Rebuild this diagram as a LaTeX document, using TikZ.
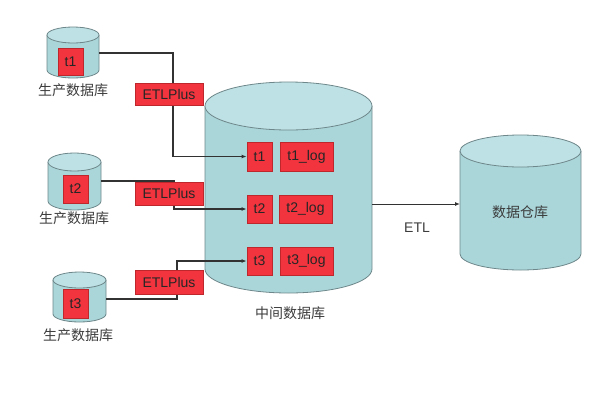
\documentclass[tikz,border=0pt]{standalone}
\usepackage{fontspec}
\setmainfont{Liberation Sans}
\newfontfamily\cjk{Noto Sans CJK SC}
\usetikzlibrary{arrows.meta}
\definecolor{cylbody}{RGB}{170,214,218}
\definecolor{cyltop}{RGB}{190,225,229}
\definecolor{cylline}{RGB}{110,135,138}
\definecolor{tblred}{RGB}{242,52,62}
\definecolor{tbledge}{RGB}{190,40,45}
\definecolor{txtgray}{RGB}{60,60,60}
\definecolor{flowgray}{RGB}{50,50,50}
\tikzset{
  tblbox/.style={draw=tbledge, fill=tblred, line width=0.8pt, inner sep=0pt, font=\fontsize{14}{16}\selectfont, text=black!85},
  flow/.style={draw=flowgray, line width=1.2pt},
  lbl/.style={font=\cjk\fontsize{14}{16}\selectfont, text=txtgray, inner sep=0pt}
}
% name, cx, top y, bottom y, rx, ry
\newcommand{\dbcyl}[6]{
  \fill[cylbody] (#2-#5,#3) -- (#2-#5,#4) arc(180:0:#5 and #6) -- (#2+#5,#3) -- cycle;
  \draw[cylline, line width=0.8pt] (#2-#5,#3) -- (#2-#5,#4) arc(180:0:#5 and #6) -- (#2+#5,#3);
  \filldraw[fill=cyltop, draw=cylline, line width=0.8pt] (#2,#3) ellipse (#5 and #6);
  \coordinate (#1-e) at (#2+#5,{(#3+#4)/2});
  \coordinate (#1-w) at (#2-#5,{(#3+#4)/2});
}
\newcommand{\tbl}[6]{\node[tblbox, minimum width=#5, minimum height=#6] (#1) at (#2,#3) {#4};}

\begin{document}
\begin{tikzpicture}[x=1pt, y=-1pt]
    \useasboundingbox (0,0) rectangle (600,400);

    % source databases
    \dbcyl{db1}{73}{35}{70}{26}{8}
    \dbcyl{db2}{74.5}{162}{201}{26.5}{9}
    \dbcyl{db3}{79.5}{280}{314}{26.5}{8}

    \tbl{s1}{70.5}{61.5}{t1}{25}{27}
    \tbl{s2}{75.5}{189}{t2}{25}{28}
    \tbl{s3}{75.5}{303.5}{t3}{25}{29}

    \node[lbl] (n1) at (73,90) {生产数据库};
    \node[lbl] (n2) at (74,218) {生产数据库};
    \node[lbl] (n3) at (78,335) {生产数据库};

    % middle database
    \dbcyl{mid}{288.5}{106}{269}{83.5}{24}

    \tbl{t1}{259.5}{156.5}{t1}{25}{29}
    \tbl{t2}{259.5}{209}{t2}{25}{28}
    \tbl{t3}{259.5}{261}{t3}{25}{28}
    \tbl{l1}{306.5}{156.5}{t1\_log}{53}{29}
    \tbl{l2}{305.5}{209}{t2\_log}{53}{28}
    \tbl{l3}{306.5}{261}{t3\_log}{53}{28}

    \node[lbl] (nm) at (290,313) {中间数据库};

    % warehouse
    \dbcyl{wh}{520.5}{151}{254}{60.5}{16}
    \node[lbl] (nw) at (520,212) {数据仓库};

    % flows
    \coordinate (p1) at (99,53);
    \coordinate (p2) at (101,181);
    \coordinate (p3) at (106,299);
    \draw[flow, -{Latex[length=5pt,width=4pt]}] (p1) -- ++(74,0) |- (t1.west);
    \draw[flow, -{Latex[length=5pt,width=4pt]}] (p2) -- ++(73,0) |- (t2.west);
    \draw[flow, -{Latex[length=5pt,width=4pt]}] (p3) -- ++(71,0) |- (t3.west);
    \coordinate (me) at (372,204);
    \coordinate (ww) at (460,204);
    \draw[flow, line width=1pt, -{Latex[length=5pt,width=4pt]}] (me) -- (ww);
    \node[font=\fontsize{14}{16}\selectfont, text=txtgray] (etl) at (417,228) {ETL};

    % ETLPlus boxes
    \tbl{e1}{169}{94}{ETLPlus}{68}{22}
    \tbl{e2}{169}{193.5}{ETLPlus}{68}{23}
    \tbl{e3}{169}{282}{ETLPlus}{68}{24}
\end{tikzpicture}
\end{document}
